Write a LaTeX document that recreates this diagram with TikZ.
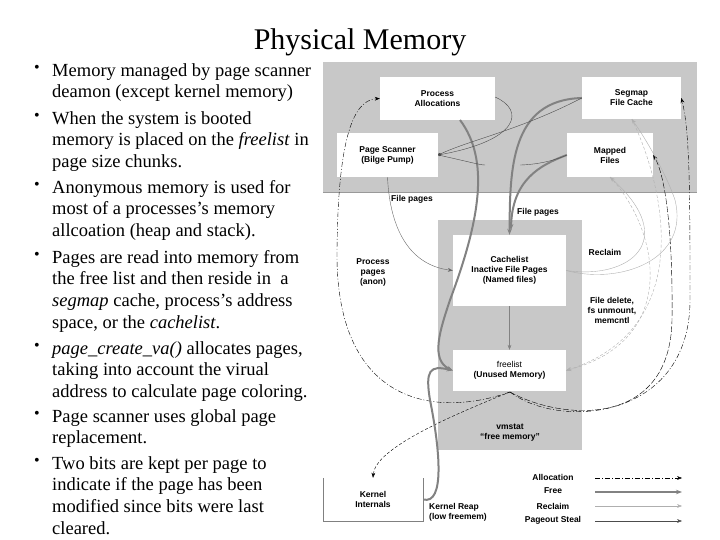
\documentclass[tikz,border=0pt]{standalone}
\usepackage{fontspec}
\setmainfont{Liberation Serif}
\newfontfamily\dsans{Liberation Sans}
\usetikzlibrary{arrows.meta}
\definecolor{band}{RGB}{200,200,200}
\definecolor{freec}{RGB}{130,130,130}
\definecolor{recl}{RGB}{175,175,175}
\tikzset{
  box/.style={fill=white, inner sep=0pt, font=\dsans\fontsize{8.5}{10}\selectfont\bfseries, align=center},
  lbl/.style={font=\dsans\fontsize{8.5}{10}\selectfont\bfseries, align=center, inner sep=1pt},
  item/.style={anchor=north west, inner sep=0pt, align=left, font=\fontsize{18.5}{21.7}\selectfont},
  dot/.style={anchor=north, inner sep=0pt, font=\fontsize{16}{21.7}\selectfont},
  alloc/.style={thin, dash pattern=on 5pt off 2pt on 1pt off 2pt, -{Stealth[length=5pt]}},
  freea/.style={line width=2pt, freec, -{Stealth[length=6pt]}},
  recla/.style={thin, recl, -{Stealth[length=5pt]}},
  steal/.style={thin, black!70, -{Stealth[length=5pt]}},
  delf/.style={thin, recl, densely dashed, -{Stealth[length=5pt]}}
}
\begin{document}
\begin{tikzpicture}[x=1pt,y=-1pt]
\useasboundingbox (0,0) rectangle (720,540);
\node[font=\fontsize{30}{32}\selectfont] (title) at (360,42) {Physical Memory};

% bullets
\foreach \n/\y in {1/65,2/113,3/182,4/252,5/343,6/411,7/458}{
  \node[dot] (d\n) at (37,\y) {\textbullet};
}
\node[item] (t1) at (52,63) {Memory managed by page scanner\\deamon (except kernel memory)};
\node[item] (t2) at (52,111) {When the system is booted\\memory is placed on the \textit{freelist} in\\page size chunks.};
\node[item] (t3) at (52,180) {Anonymous memory is used for\\most of a processes's memory\\allcoation (heap and stack).};
\node[item] (t4) at (52,250) {Pages are read into memory from\\the free list and then reside in\ \ a\\\textit{segmap} cache, process's address\\space, or the \textit{cachelist}.};
\node[item] (t5) at (52,341) {\textit{page\_create\_va()} allocates pages,\\taking into account the virual\\address to calculate page coloring.};
\node[item] (t6) at (52,409) {Page scanner uses global page\\replacement.};
\node[item] (t7) at (52,456) {Two bits are kept per page to\\indicate if the page has been\\modified since bits were last\\cleared.};

% backgrounds
\fill[band] (323,62) rectangle (697,192);
\fill[band] (438,220) rectangle (582,450);
\draw[black!40, thin] (323,192) -- (697,192);

% boxes
\node[box, minimum width=115pt, minimum height=43pt] (pa) at (437.5,98.5) {Process\\Allocations};
\node[box, minimum width=99pt, minimum height=42pt] (sf) at (631.5,98) {Segmap\\File Cache};
\node[box, minimum width=101pt, minimum height=44pt] (ps) at (387.5,155) {Page Scanner\\(Bilge Pump)};
\node[box, minimum width=86pt, minimum height=44pt] (mf) at (610,155) {Mapped\\Files};
\node[box, minimum width=113pt, minimum height=71pt] (cl) at (509.5,270.5) {Cachelist\\Inactive File Pages\\(Named files)};
\node[box, minimum width=113pt, minimum height=41pt, font=\dsans\fontsize{8.5}{10}\selectfont] (fl) at (509.5,370.5) {freelist\\\textbf{(Unused Memory)}};
\node[lbl] (vm) at (510,433) {vmstat\\\textquotedblleft free memory\textquotedblright};
\node[box, fill=none, minimum width=100pt, minimum height=43pt] (ki) at (373,499.5) {Kernel\\Internals};
\draw[black!50, thin] (ki.north west) -- (ki.south west) -- (ki.south east) -- (ki.north east);

% labels
\node[lbl] (lfp1) at (412,199) {File pages};
\node[lbl] (lfp2) at (538,212) {File pages};
\node[lbl] (lpp) at (373,272) {Process\\pages\\(anon)};
\node[lbl] (lrc) at (605,252) {Reclaim};
\node[lbl] (lfd) at (612,310) {File delete,\\fs unmount,\\memcntl};
\node[lbl, align=left, anchor=west] (lkr) at (428,512) {Kernel Reap\\(low freemem)};

% connectors
\coordinate (fb) at (510,392);
\draw[alloc] (fb) .. controls (430,420) and (335,400) .. (337,250) .. controls (338,150) and (350,100) .. (pa.west);
\draw[alloc] (fb) .. controls (560,430) and (690,420) .. (690,300) .. controls (690,200) and (690,130) .. (sf.east);
\draw[thin, dash pattern=on 6pt off 2pt, -{Stealth[length=5pt]}] (fb) .. controls (560,420) and (670,430) .. (672,320) .. controls (673,230) and (665,175) .. (mf.east);
\draw[thin, densely dashed, -{Stealth[length=5pt]}] (fb) .. controls (440,420) and (375,450) .. (ki.north);
\draw[freea] (460,120) .. controls (490,160) and (480,220) .. (450,300) .. controls (440,330) and (430,360) .. (fl.west);
\draw[freea] (sf.west) .. controls (510,100) and (510,170) .. (cl.north);
\draw[freea] (mf.west) .. controls (540,165) and (512,180) .. (511,230);
\draw[freea] (ki.east) .. controls (445,505) and (440,450) .. (430,400) .. controls (425,370) and (430,365) .. (fl.west);
\draw[thin, black!60, -{Stealth[length=5pt]}] (ps.south) .. controls (390,230) and (410,265) .. (cl.west);
\draw[thin, freec, -{Stealth[length=5pt]}] (cl.south) -- (fl.north);
\draw[thin, black!70, -{Circle[length=3pt]}] (495,97) .. controls (525,110) and (520,140) .. (ps.east);
\draw[thin, black!70, -{Circle[length=3pt]}] (sf.west) .. controls (520,130) and (470,140) .. (ps.east);
\draw[thin, black!70] (mf.west) .. controls (545,165) and (520,165) .. (520,165);
\draw[thin, black!70] (ps.east) .. controls (470,162) and (480,165) .. (485,165);
\draw[recla] (cl.east) .. controls (620,285) and (690,260) .. (675,200) .. controls (665,170) and (640,130) .. (sf.south);
\draw[recla] (cl.east) .. controls (630,280) and (680,240) .. (mf.south);
\draw[delf] (632,119) .. controls (670,200) and (690,330) .. (fl.east);
\draw[delf] (610,177) .. controls (660,230) and (680,340) .. (fl.east);

% legend
\node[lbl] (la) at (553,477) {Allocation};
\node[lbl] (lf) at (553,491) {Free};
\node[lbl] (lr) at (553,506) {Reclaim};
\node[lbl] (lp) at (553,520) {Pageout Steal};
\coordinate (a1) at (595,478); \coordinate (a2) at (682,478);
\coordinate (f1) at (595,492); \coordinate (f2) at (682,492);
\coordinate (r1) at (595,506); \coordinate (r2) at (682,506);
\coordinate (s1) at (595,521); \coordinate (s2) at (682,521);
\draw[alloc] (a1) -- (a2);
\draw[freea] (f1) -- (f2);
\draw[recla] (r1) -- (r2);
\draw[steal] (s1) -- (s2);
\end{tikzpicture}
\end{document}
